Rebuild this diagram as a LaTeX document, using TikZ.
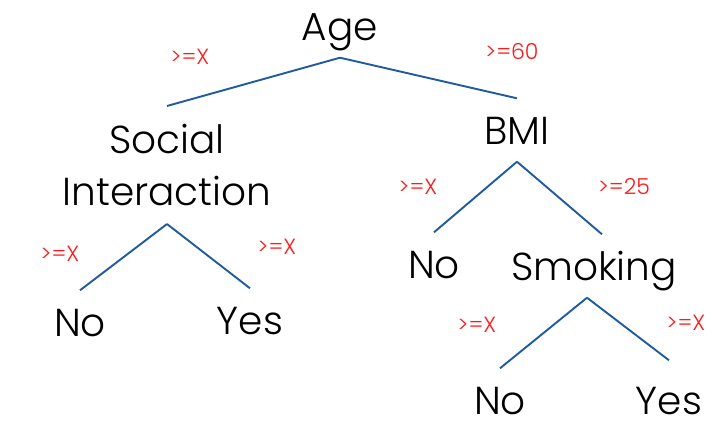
\documentclass[tikz,border=0pt]{standalone}
\usepackage{fontspec}
\setmainfont{Poppins}[UprightFont={* Light}]
\usepackage{xcolor}
\definecolor{colorBranch}{RGB}{31,91,158}
\definecolor{colorSplit}{RGB}{255,25,25}
\usetikzlibrary{positioning}

\begin{document}
\begin{tikzpicture}[x=1pt, y=-1pt,
  branch/.style={colorBranch, line width=1.9pt},
  attr/.style={font=\fontsize{39}{52}\selectfont, inner xsep=0pt, inner ysep=17pt},
  var/.style={attr, text height=29pt, text depth=0pt},
  cond/.style={colorSplit, font=\fontsize{22}{26}\selectfont, inner sep=0pt}]
\useasboundingbox (0,0) rectangle (726,440);
% attributes and leaves
\node[var] (age) at (340,26) {Age};
\node[attr, align=center, inner ysep=18pt] (social) at (167,165) {Social\\Interaction};
\node[var] (bmi) at (517,130) {BMI};
\node[var] (no1) at (80,322) {No};
\node[var] (yes1) at (250,320) {Yes};
\node[var] (no2) at (434,264) {No};
\node[var] (smoking) at (594,266) {Smoking};
\node[var] (no3) at (500,400) {No};
\node[var] (yes3) at (669,400) {Yes};
% branches
\draw[branch] (age.south) -- (social.north);
\draw[branch] (age.south) -- (bmi.north);
\draw[branch] (social.south) -- (no1.north);
\draw[branch] (social.south) -- (yes1.north);
\draw[branch] (bmi.south) -- (no2.north);
\draw[branch] (bmi.south) -- ([xshift=8pt]smoking.north);
\draw[branch] ([xshift=-7pt]smoking.south) -- (no3.north);
\draw[branch] ([xshift=-7pt]smoking.south) -- ([yshift=8pt]yes3.north);
% split values
\node[cond] (ageL) at (190,57) {>=X};
\node[cond] (ageR) at (512,51) {>=60};
\node[cond] (socialL) at (60,254) {>=X};
\node[cond] (socialR) at (277,247) {>=X};
\node[cond] (bmiL) at (418,187) {>=X};
\node[cond] (bmiR) at (624,187) {>=25};
\node[cond] (smokingL) at (477,325) {>=X};
\node[cond] (smokingR) at (686,323) {>=X};
\end{tikzpicture}
\end{document}
